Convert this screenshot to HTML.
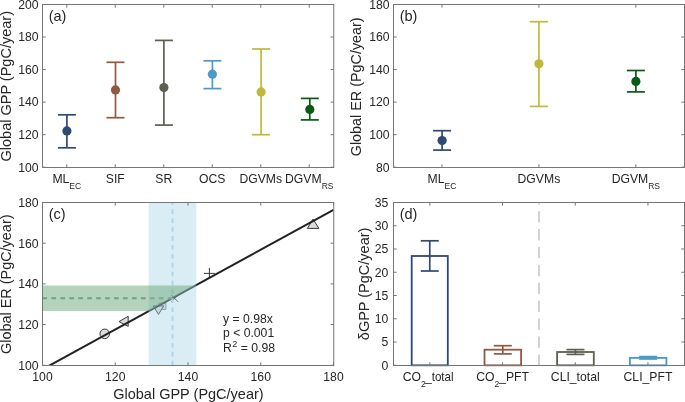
<!DOCTYPE html>
<html><head><meta charset="utf-8"><style>
html,body{margin:0;padding:0;background:#fff;overflow:hidden}
svg{display:block;will-change:transform}
</style></head><body>
<svg width="685" height="402" viewBox="0 0 685 402" font-family='"Liberation Sans", sans-serif' font-size="12.2" fill="#262626">
<rect width="685" height="402" fill="#fff"/>
<g stroke="#767676" stroke-width="1" fill="none">
<line x1="42.5" y1="167.20" x2="45.7" y2="167.20"/>
<line x1="333.75" y1="167.20" x2="330.55" y2="167.20"/>
<line x1="42.5" y1="134.66" x2="45.7" y2="134.66"/>
<line x1="333.75" y1="134.66" x2="330.55" y2="134.66"/>
<line x1="42.5" y1="102.12" x2="45.7" y2="102.12"/>
<line x1="333.75" y1="102.12" x2="330.55" y2="102.12"/>
<line x1="42.5" y1="69.58" x2="45.7" y2="69.58"/>
<line x1="333.75" y1="69.58" x2="330.55" y2="69.58"/>
<line x1="42.5" y1="37.04" x2="45.7" y2="37.04"/>
<line x1="333.75" y1="37.04" x2="330.55" y2="37.04"/>
<line x1="42.5" y1="4.50" x2="45.7" y2="4.50"/>
<line x1="333.75" y1="4.50" x2="330.55" y2="4.50"/>
<line x1="66.75" y1="167.5" x2="66.75" y2="164.3"/>
<line x1="66.75" y1="4.5" x2="66.75" y2="7.7"/>
<line x1="115.25" y1="167.5" x2="115.25" y2="164.3"/>
<line x1="115.25" y1="4.5" x2="115.25" y2="7.7"/>
<line x1="163.75" y1="167.5" x2="163.75" y2="164.3"/>
<line x1="163.75" y1="4.5" x2="163.75" y2="7.7"/>
<line x1="212.25" y1="167.5" x2="212.25" y2="164.3"/>
<line x1="212.25" y1="4.5" x2="212.25" y2="7.7"/>
<line x1="260.75" y1="167.5" x2="260.75" y2="164.3"/>
<line x1="260.75" y1="4.5" x2="260.75" y2="7.7"/>
<line x1="309.25" y1="167.5" x2="309.25" y2="164.3"/>
<line x1="309.25" y1="4.5" x2="309.25" y2="7.7"/>
<rect x="42.5" y="4.5" width="291.25" height="163.00" fill="none"/>
</g>
<text x="38.5" y="171.50" text-anchor="end">100</text>
<text x="38.5" y="138.96" text-anchor="end">120</text>
<text x="38.5" y="106.42" text-anchor="end">140</text>
<text x="38.5" y="73.88" text-anchor="end">160</text>
<text x="38.5" y="41.34" text-anchor="end">180</text>
<text x="38.5" y="8.80" text-anchor="end">200</text>
<text x="11.3" y="86.25" font-size="14.5" text-anchor="middle" transform="rotate(-90 11.3 86.25)">Global GPP (PgC/year)</text>
<text x="48.7" y="20.5" font-size="14.5">(a)</text>
<g stroke="#2e4a73" stroke-width="1.7" fill="none">
<line x1="66.90" y1="114.80" x2="66.90" y2="147.80"/>
<line x1="57.90" y1="114.80" x2="75.90" y2="114.80"/>
<line x1="57.90" y1="147.80" x2="75.90" y2="147.80"/>
</g>
<circle cx="66.90" cy="130.90" r="4.6" fill="#2e4a73"/>
<g stroke="#8f5a41" stroke-width="1.7" fill="none">
<line x1="115.50" y1="62.30" x2="115.50" y2="117.70"/>
<line x1="106.50" y1="62.30" x2="124.50" y2="62.30"/>
<line x1="106.50" y1="117.70" x2="124.50" y2="117.70"/>
</g>
<circle cx="115.50" cy="89.90" r="4.6" fill="#8f5a41"/>
<g stroke="#5d5f50" stroke-width="1.7" fill="none">
<line x1="163.90" y1="40.40" x2="163.90" y2="125.10"/>
<line x1="154.90" y1="40.40" x2="172.90" y2="40.40"/>
<line x1="154.90" y1="125.10" x2="172.90" y2="125.10"/>
</g>
<circle cx="163.90" cy="87.60" r="4.6" fill="#5d5f50"/>
<g stroke="#4b9aca" stroke-width="1.7" fill="none">
<line x1="212.40" y1="60.80" x2="212.40" y2="88.60"/>
<line x1="203.40" y1="60.80" x2="221.40" y2="60.80"/>
<line x1="203.40" y1="88.60" x2="221.40" y2="88.60"/>
</g>
<circle cx="212.40" cy="74.20" r="4.6" fill="#4b9aca"/>
<g stroke="#c0b83a" stroke-width="1.7" fill="none">
<line x1="261.10" y1="49.00" x2="261.10" y2="134.70"/>
<line x1="252.10" y1="49.00" x2="270.10" y2="49.00"/>
<line x1="252.10" y1="134.70" x2="270.10" y2="134.70"/>
</g>
<circle cx="261.10" cy="91.90" r="4.6" fill="#c0b83a"/>
<g stroke="#0a5a13" stroke-width="1.7" fill="none">
<line x1="309.80" y1="98.40" x2="309.80" y2="119.90"/>
<line x1="300.80" y1="98.40" x2="318.80" y2="98.40"/>
<line x1="300.80" y1="119.90" x2="318.80" y2="119.90"/>
</g>
<circle cx="309.80" cy="109.40" r="4.6" fill="#0a5a13"/>
<text x="66.75" y="183.30" text-anchor="middle">ML<tspan font-size="8.5" dy="5.8">EC</tspan></text>
<text x="115.25" y="183.30" text-anchor="middle">SIF</text>
<text x="163.75" y="183.30" text-anchor="middle">SR</text>
<text x="212.25" y="183.30" text-anchor="middle">OCS</text>
<text x="260.75" y="183.30" text-anchor="middle">DGVMs</text>
<text x="309.25" y="183.30" text-anchor="middle">DGVM<tspan font-size="8.5" dy="5.8">RS</tspan></text>
<g stroke="#767676" stroke-width="1" fill="none">
<line x1="393.5" y1="167.20" x2="396.7" y2="167.20"/>
<line x1="684.5" y1="167.20" x2="681.3" y2="167.20"/>
<line x1="393.5" y1="134.66" x2="396.7" y2="134.66"/>
<line x1="684.5" y1="134.66" x2="681.3" y2="134.66"/>
<line x1="393.5" y1="102.12" x2="396.7" y2="102.12"/>
<line x1="684.5" y1="102.12" x2="681.3" y2="102.12"/>
<line x1="393.5" y1="69.58" x2="396.7" y2="69.58"/>
<line x1="684.5" y1="69.58" x2="681.3" y2="69.58"/>
<line x1="393.5" y1="37.04" x2="396.7" y2="37.04"/>
<line x1="684.5" y1="37.04" x2="681.3" y2="37.04"/>
<line x1="393.5" y1="4.50" x2="396.7" y2="4.50"/>
<line x1="684.5" y1="4.50" x2="681.3" y2="4.50"/>
<line x1="441.97" y1="167.5" x2="441.97" y2="164.3"/>
<line x1="441.97" y1="4.5" x2="441.97" y2="7.7"/>
<line x1="538.90" y1="167.5" x2="538.90" y2="164.3"/>
<line x1="538.90" y1="4.5" x2="538.90" y2="7.7"/>
<line x1="635.83" y1="167.5" x2="635.83" y2="164.3"/>
<line x1="635.83" y1="4.5" x2="635.83" y2="7.7"/>
<rect x="393.5" y="4.5" width="291.00" height="163.00" fill="none"/>
</g>
<text x="389.5" y="171.50" text-anchor="end">80</text>
<text x="389.5" y="138.96" text-anchor="end">100</text>
<text x="389.5" y="106.42" text-anchor="end">120</text>
<text x="389.5" y="73.88" text-anchor="end">140</text>
<text x="389.5" y="41.34" text-anchor="end">160</text>
<text x="389.5" y="8.80" text-anchor="end">180</text>
<text x="361.3" y="86.80" font-size="14.36" text-anchor="middle" transform="rotate(-90 361.3 86.80)">Global ER (PgC/year)</text>
<text x="399.7" y="20.5" font-size="14.5">(b)</text>
<g stroke="#2e4a73" stroke-width="1.7" fill="none">
<line x1="442.10" y1="130.70" x2="442.10" y2="150.10"/>
<line x1="433.10" y1="130.70" x2="451.10" y2="130.70"/>
<line x1="433.10" y1="150.10" x2="451.10" y2="150.10"/>
</g>
<circle cx="442.10" cy="140.60" r="4.6" fill="#2e4a73"/>
<g stroke="#c0b83a" stroke-width="1.7" fill="none">
<line x1="538.90" y1="21.70" x2="538.90" y2="106.40"/>
<line x1="529.90" y1="21.70" x2="547.90" y2="21.70"/>
<line x1="529.90" y1="106.40" x2="547.90" y2="106.40"/>
</g>
<circle cx="538.90" cy="63.80" r="4.6" fill="#c0b83a"/>
<g stroke="#0a5a13" stroke-width="1.7" fill="none">
<line x1="635.90" y1="70.50" x2="635.90" y2="91.90"/>
<line x1="626.90" y1="70.50" x2="644.90" y2="70.50"/>
<line x1="626.90" y1="91.90" x2="644.90" y2="91.90"/>
</g>
<circle cx="635.90" cy="81.40" r="4.6" fill="#0a5a13"/>
<text x="441.97" y="183.30" text-anchor="middle">ML<tspan font-size="8.5" dy="5.8">EC</tspan></text>
<text x="538.90" y="183.30" text-anchor="middle">DGVMs</text>
<text x="635.83" y="183.30" text-anchor="middle">DGVM<tspan font-size="8.5" dy="5.8">RS</tspan></text>
<defs><clipPath id="cc"><rect x="42.5" y="202.5" width="291" height="162.8"/></clipPath></defs>
<g clip-path="url(#cc)">
<g stroke="#3a3a3a" stroke-width="1" fill="#dcdcdc">
<circle cx="104.75" cy="333.85" r="4.8"/>
<path d="M119,321.6 L128.2,316.3 L128.2,326.4 Z"/>
<path d="M158.8,303.1 H165.9 V309.5 H158.8 Z" stroke="#8a8a8a"/>
<path d="M153.3,305.9 L163.7,305.9 L158.5,314.4 Z"/>
<path d="M171.3,295.1 L178.1,301.9 M171.3,301.9 L178.1,295.1" fill="none"/>
<path d="M203.9,273.4 H214.9 M209.4,267.9 V278.9" fill="none"/>
<path d="M313,219.1 L318.9,228.4 L307.4,228.4 Z"/>
</g>
<line x1="42.50" y1="369.37" x2="333.50" y2="209.83" stroke="#222" stroke-width="2"/>
<line x1="42.5" y1="298.2" x2="172.31" y2="298.2" stroke="rgb(100,165,118)" stroke-width="2" stroke-dasharray="4.6 4.35"/>
<rect x="148.7" y="202.5" width="47.6" height="162.8" fill="rgb(165,210,227)" fill-opacity="0.4"/>
<line x1="172.5" y1="365.3" x2="172.5" y2="202.5" stroke="#a9d6ea" stroke-width="2" stroke-dasharray="4.6 4.3"/>
<path d="M42.5,311.1 L42.5,285.4 L195.66,285.4 L148.78,311.1 Z" fill="rgb(107,165,121)" fill-opacity="0.5"/>
</g>
<g stroke="#767676" stroke-width="1" fill="none">
<line x1="42.5" y1="365.30" x2="45.7" y2="365.30"/>
<line x1="333.75" y1="365.30" x2="330.55" y2="365.30"/>
<line x1="42.5" y1="324.60" x2="45.7" y2="324.60"/>
<line x1="333.75" y1="324.60" x2="330.55" y2="324.60"/>
<line x1="42.5" y1="283.90" x2="45.7" y2="283.90"/>
<line x1="333.75" y1="283.90" x2="330.55" y2="283.90"/>
<line x1="42.5" y1="243.20" x2="45.7" y2="243.20"/>
<line x1="333.75" y1="243.20" x2="330.55" y2="243.20"/>
<line x1="42.5" y1="202.50" x2="45.7" y2="202.50"/>
<line x1="333.75" y1="202.50" x2="330.55" y2="202.50"/>
<line x1="42.50" y1="365.5" x2="42.50" y2="362.3"/>
<line x1="42.50" y1="202.5" x2="42.50" y2="205.7"/>
<line x1="115.25" y1="365.5" x2="115.25" y2="362.3"/>
<line x1="115.25" y1="202.5" x2="115.25" y2="205.7"/>
<line x1="188.00" y1="365.5" x2="188.00" y2="362.3"/>
<line x1="188.00" y1="202.5" x2="188.00" y2="205.7"/>
<line x1="260.75" y1="365.5" x2="260.75" y2="362.3"/>
<line x1="260.75" y1="202.5" x2="260.75" y2="205.7"/>
<line x1="333.50" y1="365.5" x2="333.50" y2="362.3"/>
<line x1="333.50" y1="202.5" x2="333.50" y2="205.7"/>
<rect x="42.5" y="202.5" width="291.25" height="163.00" fill="none"/>
</g>
<text x="38.5" y="369.60" text-anchor="end">100</text>
<text x="38.5" y="328.90" text-anchor="end">120</text>
<text x="38.5" y="288.20" text-anchor="end">140</text>
<text x="38.5" y="247.50" text-anchor="end">160</text>
<text x="38.5" y="206.80" text-anchor="end">180</text>
<text x="11.4" y="284.25" font-size="14.43" text-anchor="middle" transform="rotate(-90 11.4 284.25)">Global ER (PgC/year)</text>
<text x="48.7" y="218.5" font-size="14.5">(c)</text>
<text x="42.50" y="381.30" text-anchor="middle">100</text>
<text x="115.25" y="381.30" text-anchor="middle">120</text>
<text x="188.00" y="381.30" text-anchor="middle">140</text>
<text x="260.75" y="381.30" text-anchor="middle">160</text>
<text x="333.50" y="381.30" text-anchor="middle">180</text>
<text x="188.45" y="398.5" font-size="14.5" text-anchor="middle">Global GPP (PgC/year)</text>
<text x="223" y="323" >y = 0.98x</text>
<text x="223" y="336.5" >p &lt; 0.001</text>
<text x="223" y="351.7" >R<tspan font-size="9" dx="0.5" dy="-4.8">2</tspan><tspan dy="4.8"> = 0.98</tspan></text>
<line x1="539" y1="365.3" x2="539" y2="202.5" stroke="#d2d2d2" stroke-width="2" stroke-dasharray="11.3 6.6" stroke-dashoffset="0.4"/>
<rect x="411.7" y="256.0" width="36.10" height="109.30" fill="none" stroke="#2e4a73" stroke-width="1.8"/>
<g stroke="#2e4a73" stroke-width="1.7" fill="none">
<line x1="429.75" y1="240.80" x2="429.75" y2="271.00"/>
<line x1="420.75" y1="240.80" x2="438.75" y2="240.80"/>
<line x1="420.75" y1="271.00" x2="438.75" y2="271.00"/>
</g>
<rect x="484.5" y="349.7" width="36.60" height="15.60" fill="none" stroke="#8f5a41" stroke-width="1.8"/>
<g stroke="#8f5a41" stroke-width="1.7" fill="none">
<line x1="502.80" y1="345.70" x2="502.80" y2="353.90"/>
<line x1="493.80" y1="345.70" x2="511.80" y2="345.70"/>
<line x1="493.80" y1="353.90" x2="511.80" y2="353.90"/>
</g>
<rect x="557.1" y="352.0" width="36.70" height="13.30" fill="none" stroke="#5d5f50" stroke-width="1.8"/>
<g stroke="#5d5f50" stroke-width="1.7" fill="none">
<line x1="575.45" y1="349.60" x2="575.45" y2="354.40"/>
<line x1="566.45" y1="349.60" x2="584.45" y2="349.60"/>
<line x1="566.45" y1="354.40" x2="584.45" y2="354.40"/>
</g>
<rect x="629.9" y="357.9" width="36.50" height="7.40" fill="none" stroke="#4b9aca" stroke-width="1.8"/>
<g stroke="#4b9aca" stroke-width="1.7" fill="none">
<line x1="648.15" y1="356.60" x2="648.15" y2="359.00"/>
<line x1="639.15" y1="356.60" x2="657.15" y2="356.60"/>
<line x1="639.15" y1="359.00" x2="657.15" y2="359.00"/>
</g>
<g stroke="#767676" stroke-width="1" fill="none">
<line x1="393.5" y1="365.30" x2="396.7" y2="365.30"/>
<line x1="684.5" y1="365.30" x2="681.3" y2="365.30"/>
<line x1="393.5" y1="342.04" x2="396.7" y2="342.04"/>
<line x1="684.5" y1="342.04" x2="681.3" y2="342.04"/>
<line x1="393.5" y1="318.79" x2="396.7" y2="318.79"/>
<line x1="684.5" y1="318.79" x2="681.3" y2="318.79"/>
<line x1="393.5" y1="295.53" x2="396.7" y2="295.53"/>
<line x1="684.5" y1="295.53" x2="681.3" y2="295.53"/>
<line x1="393.5" y1="272.27" x2="396.7" y2="272.27"/>
<line x1="684.5" y1="272.27" x2="681.3" y2="272.27"/>
<line x1="393.5" y1="249.01" x2="396.7" y2="249.01"/>
<line x1="684.5" y1="249.01" x2="681.3" y2="249.01"/>
<line x1="393.5" y1="225.76" x2="396.7" y2="225.76"/>
<line x1="684.5" y1="225.76" x2="681.3" y2="225.76"/>
<line x1="393.5" y1="202.50" x2="396.7" y2="202.50"/>
<line x1="684.5" y1="202.50" x2="681.3" y2="202.50"/>
<line x1="429.85" y1="365.5" x2="429.85" y2="362.3"/>
<line x1="429.85" y1="202.5" x2="429.85" y2="205.7"/>
<line x1="502.55" y1="365.5" x2="502.55" y2="362.3"/>
<line x1="502.55" y1="202.5" x2="502.55" y2="205.7"/>
<line x1="575.25" y1="365.5" x2="575.25" y2="362.3"/>
<line x1="575.25" y1="202.5" x2="575.25" y2="205.7"/>
<line x1="647.95" y1="365.5" x2="647.95" y2="362.3"/>
<line x1="647.95" y1="202.5" x2="647.95" y2="205.7"/>
<rect x="393.5" y="202.5" width="291.00" height="163.00" fill="none"/>
</g>
<text x="388.3" y="369.60" text-anchor="end">0</text>
<text x="388.3" y="346.34" text-anchor="end">5</text>
<text x="388.3" y="323.09" text-anchor="end">10</text>
<text x="388.3" y="299.83" text-anchor="end">15</text>
<text x="388.3" y="276.57" text-anchor="end">20</text>
<text x="388.3" y="253.31" text-anchor="end">25</text>
<text x="388.3" y="230.06" text-anchor="end">30</text>
<text x="388.3" y="206.80" text-anchor="end">35</text>
<text x="368.6" y="283.90" font-size="14.5" text-anchor="middle" transform="rotate(-90 368.6 283.90)">δGPP (PgC/year)</text>
<text x="399.7" y="218.5" font-size="14.5">(d)</text>
<text x="402.7" y="381.30">CO<tspan font-size="8.5" dy="5.8">2</tspan><tspan dy="-5.8" dx="-0.5" textLength="28.4" lengthAdjust="spacingAndGlyphs">_total</tspan></text>
<text x="502.55" y="381.30" text-anchor="middle">CO<tspan font-size="8.5" dy="5.8">2</tspan><tspan dy="-5.8">_PFT</tspan></text>
<text x="575.25" y="381.30" text-anchor="middle">CLI_total</text>
<text x="647.95" y="381.30" text-anchor="middle">CLI_PFT</text>
</svg>
</body></html>
